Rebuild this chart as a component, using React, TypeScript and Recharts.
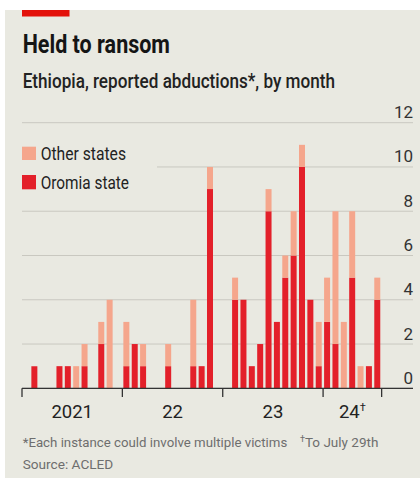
import React from 'react';
import { BarChart, Bar, XAxis, YAxis, CartesianGrid, ReferenceLine } from 'recharts';

// Monthly abductions, Jan 2021 to Jul 2024
const months = [
  '2021-01', '2021-02', '2021-03', '2021-04', '2021-05', '2021-06',
  '2021-07', '2021-08', '2021-09', '2021-10', '2021-11', '2021-12',
  '2022-01', '2022-02', '2022-03', '2022-04', '2022-05', '2022-06',
  '2022-07', '2022-08', '2022-09', '2022-10', '2022-11', '2022-12',
  '2023-01', '2023-02', '2023-03', '2023-04', '2023-05', '2023-06',
  '2023-07', '2023-08', '2023-09', '2023-10', '2023-11', '2023-12',
  '2024-01', '2024-02', '2024-03', '2024-04', '2024-05', '2024-06',
  '2024-07'
];

const oromia = [
  0, 1, 0, 0, 1, 1, 0, 1, 0, 2, 0, 0,
  1, 2, 1, 0, 0, 1, 0, 0, 1, 1, 9, 0,
  0, 4, 4, 1, 2, 8, 3, 5, 6, 10, 4, 1,
  3, 2, 0, 5, 0, 1, 4
];

const otherStates = [
  0, 0, 0, 0, 0, 0, 1, 1, 0, 1, 4, 0,
  2, 0, 1, 0, 0, 1, 0, 0, 3, 0, 1, 0,
  0, 1, 0, 0, 0, 1, 0, 1, 2, 1, 0, 2,
  2, 6, 3, 3, 1, 0, 1
];

const yTicks = [0, 2, 4, 6, 8, 10, 12];

// year boundaries and label positions, in months from Jan 2021
const yearBoundaries = [0, 12, 24, 36, 43];
const yearLabels = [
  { at: 6, text: '2021', dagger: false },
  { at: 18, text: '22', dagger: false },
  { at: 30, text: '23', dagger: false },
  { at: 39.5, text: '24', dagger: true }
];

const data = months.map((m, i) => ({
  month: m,
  x: i + 0.5,
  oromia: oromia[i],
  other: otherStates[i]
}));

const W = 420;
const H = 478;
const PLOT_LEFT = 22;
const PLOT_RIGHT = 413;
const PLOT_TOP = 122.7;
const PLOT_BOTTOM = 388.3;
const X_MAX = 46.75;
const Y_AXIS_W = 2;

const RED = '#e3202a';
const PINK = '#f5a68c';
const BG = '#e9e9e1';
const GRID = '#c9c8c0';
const FONT = "'Liberation Sans Narrow', Roboto, sans-serif";

const XTick = (props: any) => {
  const { x, payload } = props;
  const v = payload.value;
  const label = yearLabels.find((l) => l.at === v);
  return (
    <g>
      {yearBoundaries.includes(v) && (
        <line x1={x} x2={x} y1={PLOT_BOTTOM} y2={397} stroke="#333" strokeWidth={1.3} />
      )}
      {label && (
        <text x={x} y={418.3} textAnchor="middle" fontSize={18.5} fill="#222" fontFamily={FONT}>
          {label.text}
          {label.dagger && (
            <tspan fontSize={11} dy={-7}>†</tspan>
          )}
        </text>
      )}
    </g>
  );
};

const YTick = (props: any) => {
  const { y, payload } = props;
  return (
    <text x={PLOT_RIGHT} y={y - 4.5} textAnchor="end" fontSize={17} fill="#333" fontFamily={FONT}>
      {payload.value}
    </text>
  );
};

export default function App() {
  return (
    <div style={{ position: 'absolute', left: 0, top: 0, width: W, height: H, background: '#fff' }}>
      <div style={{ position: 'absolute', left: 5, top: 10, width: W - 5, height: H - 10, background: BG }} />
      <div style={{ position: 'absolute', left: 0, top: 0 }}>
        <BarChart
          width={W}
          height={H}
          data={data}
          margin={{ top: PLOT_TOP, right: W - PLOT_RIGHT - Y_AXIS_W, bottom: 0, left: PLOT_LEFT }}
        >
          <CartesianGrid vertical={false} stroke={GRID} strokeWidth={1} />
          <XAxis
            type="number"
            dataKey="x"
            domain={[0, X_MAX]}
            allowDataOverflow
            ticks={[0, 6, 12, 18, 24, 30, 36, 39.5, 43]}
            interval={0}
            tick={<XTick />}
            tickLine={false}
            axisLine={false}
            height={H - PLOT_BOTTOM}
          />
          <YAxis
            orientation="right"
            domain={[0, 12]}
            ticks={yTicks}
            interval={0}
            width={Y_AXIS_W}
            tick={<YTick />}
            tickLine={false}
            axisLine={false}
          />
          <ReferenceLine y={0} stroke="#333" strokeWidth={1.3} />
          <Bar dataKey="oromia" stackId="a" fill={RED} barSize={6} isAnimationActive={false} />
          <Bar dataKey="other" stackId="a" fill={PINK} barSize={6} isAnimationActive={false} />
        </BarChart>
      </div>
      <svg width={W} height={H} style={{ position: 'absolute', left: 0, top: 0, pointerEvents: 'none' }}>
        <rect x={22} y={10} width={47.5} height={6.5} fill="#e3120b" />
        <text x={22.7} y={53.3} fontSize={26} fontWeight={700} fill="#151515" fontFamily={FONT}
          textLength={147.3} lengthAdjust="spacingAndGlyphs">Held to ransom</text>
        <text x={22.7} y={88.3} fontSize={20} fontWeight={500} fill="#222" fontFamily="Roboto, sans-serif"
          textLength={312.3} lengthAdjust="spacingAndGlyphs">Ethiopia, reported abductions*, by month</text>

        {/* legend, sits on top of the 10 gridline */}
        <rect x={PLOT_LEFT} y={140} width={135} height={55} fill={BG} />
        <rect x={22} y={146.7} width={14} height={13.3} fill={PINK} />
        <text x={40.7} y={160} fontSize={17.5} fill="#222" fontFamily={FONT}
          textLength={85.3} lengthAdjust="spacingAndGlyphs">Other states</text>
        <rect x={22} y={175} width={14} height={14.3} fill={RED} />
        <text x={40.7} y={188.5} fontSize={17.5} fill="#222" fontFamily={FONT}
          textLength={88.3} lengthAdjust="spacingAndGlyphs">Oromia state</text>

        <text x={22.7} y={446.7} fontSize={13.5} fill="#6e6e6e" fontFamily={FONT}
          textLength={264.6} lengthAdjust="spacingAndGlyphs">*Each instance could involve multiple victims</text>
        <text x={300} y={446.7} fontSize={13.5} fill="#6e6e6e" fontFamily={FONT}>
          <tspan fontSize={9} dy={-5}>†</tspan>
          <tspan dy={5}>To July 29th</tspan>
        </text>
        <text x={22.7} y={469.3} fontSize={13.5} fill="#6e6e6e" fontFamily={FONT}
          textLength={90.6} lengthAdjust="spacingAndGlyphs">Source: ACLED</text>
      </svg>
    </div>
  );
}
